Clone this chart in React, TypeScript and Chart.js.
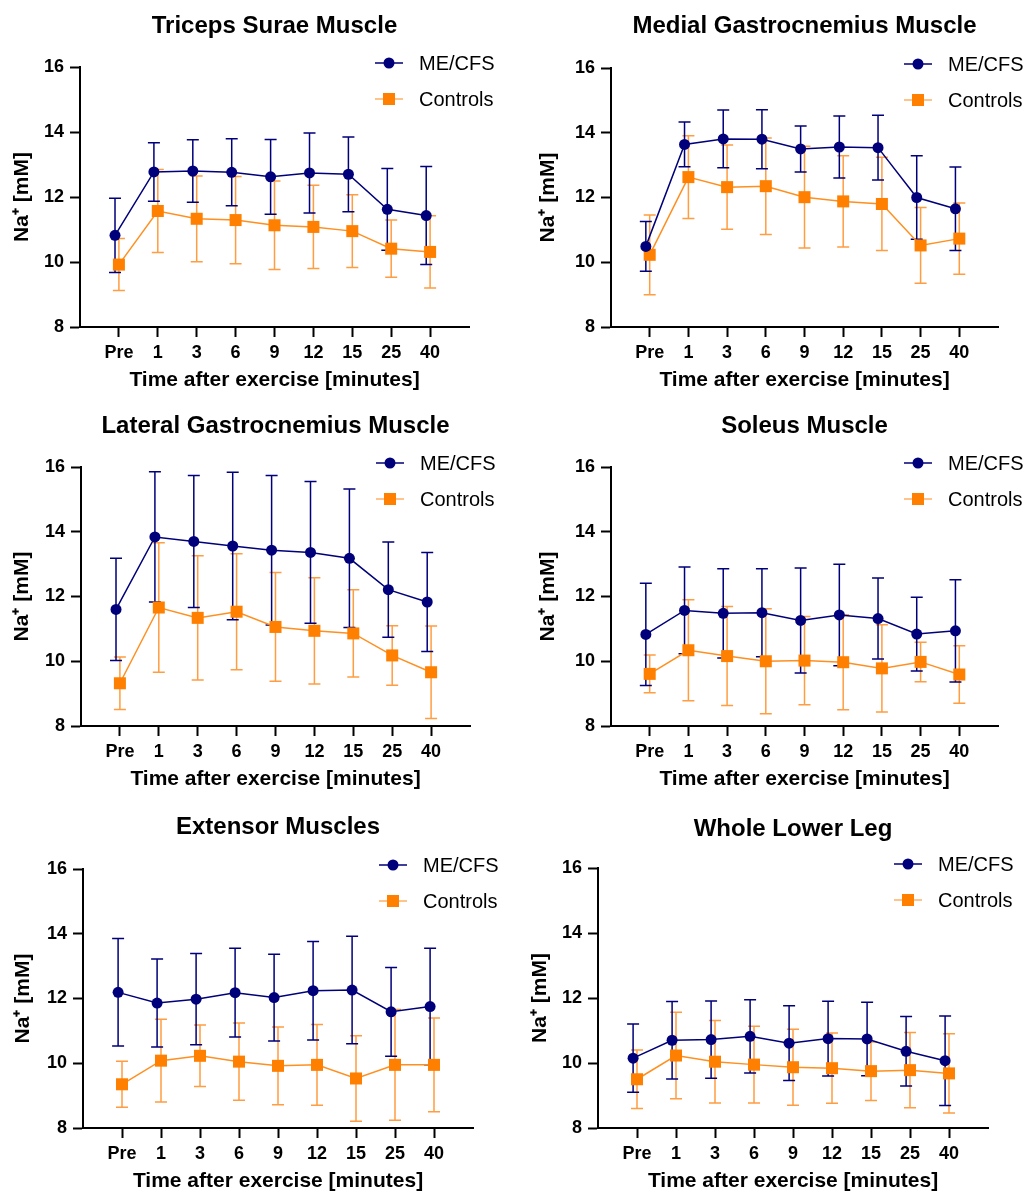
import React, { useEffect, useRef } from "react";
import { Chart, registerables } from "chart.js";

Chart.register(...registerables);

// ---------- data ----------
const timeLabels = ["Pre", "1", "3", "6", "9", "12", "15", "25", "40"];
const seriesNames = ["ME/CFS", "Controls"];
const panelTitles = [
  "Triceps Surae Muscle",
  "Medial Gastrocnemius Muscle",
  "Lateral Gastrocnemius Muscle",
  "Soleus Muscle",
  "Extensor Muscles",
  "Whole Lower Leg",
];
const xAxisTitle = "Time after exercise [minutes]";
const yAxisTitle = "Na\u207A [mM]";
const yTicks = [8, 10, 12, 14, 16];

// Triceps Surae
const tricepsMe = [10.82, 12.77, 12.8, 12.76, 12.62, 12.74, 12.7, 11.62, 11.43];
const tricepsMeSd = [1.14, 0.9, 0.96, 1.03, 1.15, 1.23, 1.15, 1.26, 1.51];
const tricepsCtrl = [9.92, 11.57, 11.33, 11.29, 11.13, 11.08, 10.95, 10.41, 10.31];
const tricepsCtrlSd = [0.8, 1.28, 1.32, 1.34, 1.36, 1.28, 1.12, 0.88, 1.11];

// Medial Gastrocnemius
const medialMe = [10.49, 13.64, 13.81, 13.8, 13.5, 13.56, 13.54, 12.0, 11.65];
const medialMeSd = [0.77, 0.69, 0.89, 0.91, 0.71, 0.96, 1.0, 1.29, 1.29];
const medialCtrl = [10.23, 12.63, 12.32, 12.35, 12.01, 11.88, 11.8, 10.52, 10.73];
const medialCtrlSd = [1.23, 1.28, 1.3, 1.49, 1.57, 1.41, 1.44, 1.17, 1.1];

// Lateral Gastrocnemius
const lateralMe = [11.6, 13.84, 13.7, 13.56, 13.43, 13.36, 13.18, 12.21, 11.83];
const lateralMeSd = [1.58, 2.01, 2.04, 2.28, 2.31, 2.19, 2.14, 1.47, 1.53];
const lateralCtrl = [9.32, 11.66, 11.34, 11.53, 11.06, 10.94, 10.86, 10.18, 9.66];
const lateralCtrlSd = [0.81, 2.0, 1.92, 1.79, 1.68, 1.64, 1.35, 0.92, 1.43];

// Soleus
const soleusMe = [10.83, 11.57, 11.48, 11.5, 11.26, 11.43, 11.32, 10.84, 10.94];
const soleusMeSd = [1.58, 1.34, 1.38, 1.36, 1.62, 1.57, 1.25, 1.14, 1.58];
const soleusCtrl = [9.61, 10.34, 10.16, 10.0, 10.02, 9.97, 9.78, 9.98, 9.59];
const soleusCtrlSd = [0.58, 1.56, 1.53, 1.62, 1.36, 1.47, 1.35, 0.61, 0.89];

// Extensor
const extensorMe = [12.19, 11.86, 11.98, 12.18, 12.03, 12.24, 12.26, 11.59, 11.75];
const extensorMeSd = [1.66, 1.36, 1.41, 1.37, 1.34, 1.52, 1.66, 1.37, 1.8];
const extensorCtrl = [9.35, 10.08, 10.23, 10.05, 9.92, 9.95, 9.53, 9.95, 9.95];
const extensorCtrlSd = [0.71, 1.28, 0.95, 1.19, 1.2, 1.25, 1.32, 1.71, 1.45];

// Whole Lower Leg
const wholeMe = [10.15, 10.7, 10.72, 10.82, 10.61, 10.75, 10.74, 10.36, 10.07];
const wholeMeSd = [1.05, 1.19, 1.19, 1.13, 1.15, 1.15, 1.13, 1.07, 1.38];
const wholeCtrl = [9.5, 10.23, 10.04, 9.95, 9.87, 9.84, 9.75, 9.78, 9.68];
const wholeCtrlSd = [0.9, 1.33, 1.27, 1.18, 1.17, 1.08, 0.9, 1.16, 1.22];

const panels = [
  { title: panelTitles[0], me: tricepsMe, meSd: tricepsMeSd, ctrl: tricepsCtrl, ctrlSd: tricepsCtrlSd },
  { title: panelTitles[1], me: medialMe, meSd: medialMeSd, ctrl: medialCtrl, ctrlSd: medialCtrlSd },
  { title: panelTitles[2], me: lateralMe, meSd: lateralMeSd, ctrl: lateralCtrl, ctrlSd: lateralCtrlSd },
  { title: panelTitles[3], me: soleusMe, meSd: soleusMeSd, ctrl: soleusCtrl, ctrlSd: soleusCtrlSd },
  { title: panelTitles[4], me: extensorMe, meSd: extensorMeSd, ctrl: extensorCtrl, ctrlSd: extensorCtrlSd },
  { title: panelTitles[5], me: wholeMe, meSd: wholeMeSd, ctrl: wholeCtrl, ctrlSd: wholeCtrlSd },
];

// ---------- layout & style ----------
const FONT = '"Liberation Sans", Arial, Helvetica, sans-serif';
const NAVY = "#00007A";
const ORANGE = "#FF8000";
const ORANGE_LINE = "#FF8F1F";
const ORANGE_ERR = "rgba(255,140,30,0.85)";
const ORANGE_LEGEND = "#FFB066";
const ME_SHIFT = -0.1;
const X_AXIS_HEIGHT = 66;

const boxes = [
  { x: 0, y: 0, w: 515, h: 400, L: 80, T: 67, R: 469, B: 327, yTitleX: 22, titleY: 26 },
  { x: 515, y: 0, w: 514, h: 400, L: 96, T: 68, R: 483, B: 327, yTitleX: 33, titleY: 26 },
  { x: 0, y: 400, w: 515, h: 400, L: 81, T: 67, R: 470, B: 326, yTitleX: 22, titleY: 26 },
  { x: 515, y: 400, w: 514, h: 400, L: 96, T: 67, R: 483, B: 326, yTitleX: 33, titleY: 26 },
  { x: 0, y: 800, w: 515, h: 394, L: 83, T: 69, R: 473, B: 328, yTitleX: 23, titleY: 27 },
  { x: 515, y: 800, w: 514, h: 394, L: 83, T: 68, R: 473, B: 328, yTitleX: 25, titleY: 29 },
];

type PanelData = (typeof panels)[number];
type Box = (typeof boxes)[number];

function buildConfig(panel: PanelData, box: Box): any {
  const series = [
    { name: seriesNames[0], values: panel.me, sd: panel.meSd, shift: ME_SHIFT, color: NAVY, line: NAVY, err: NAVY, legendLine: NAVY, style: "circle", radius: 5.5 },
    { name: seriesNames[1], values: panel.ctrl, sd: panel.ctrlSd, shift: 0, color: ORANGE, line: ORANGE_LINE, err: ORANGE_ERR, legendLine: ORANGE_LEGEND, style: "rect", radius: 8.5 },
  ];

  const errorBarPlugin = {
    id: "errorBars",
    beforeDatasetsDraw(chart: any) {
      const { ctx } = chart;
      const xs = chart.scales.x;
      const ys = chart.scales.y;
      [1, 0].forEach((si) => {
        const s = series[si];
        ctx.save();
        ctx.strokeStyle = s.err;
        ctx.lineWidth = 1.5;
        s.values.forEach((v, i) => {
          const px = xs.getPixelForValue(i + s.shift);
          const top = ys.getPixelForValue(v + s.sd[i]);
          const bot = ys.getPixelForValue(v - s.sd[i]);
          ctx.beginPath();
          ctx.moveTo(px, top);
          ctx.lineTo(px, bot);
          ctx.moveTo(px - 6, top);
          ctx.lineTo(px + 6, top);
          ctx.moveTo(px - 6, bot);
          ctx.lineTo(px + 6, bot);
          ctx.stroke();
        });
        ctx.restore();
      });
    },
  };

  const legendPlugin = {
    id: "panelLegend",
    afterDraw(chart: any) {
      const { ctx, chartArea } = chart;
      const x0 = chartArea.right - 94;
      series.forEach((s, k) => {
        const yy = chartArea.top - 4 + k * 36;
        ctx.save();
        ctx.strokeStyle = s.legendLine;
        ctx.lineWidth = 1.5;
        ctx.beginPath();
        ctx.moveTo(x0, yy);
        ctx.lineTo(x0 + 28, yy);
        ctx.stroke();
        ctx.fillStyle = s.color;
        ctx.beginPath();
        if (s.style === "circle") {
          ctx.arc(x0 + 14, yy, s.radius, 0, Math.PI * 2);
        } else {
          const half = s.radius * Math.SQRT1_2;
          ctx.rect(x0 + 14 - half, yy - half, half * 2, half * 2);
        }
        ctx.fill();
        ctx.fillStyle = "#000";
        ctx.font = `20px ${FONT}`;
        ctx.textAlign = "left";
        ctx.textBaseline = "middle";
        ctx.fillText(s.name, chartArea.right - 50, yy + 1);
        ctx.restore();
      });
    },
  };

  const titleTop = box.titleY - 14.4;
  const titleBottom = box.T - titleTop - 28.8;

  return {
    type: "line",
    data: {
      datasets: [0, 1].map((si) => {
        const s = series[si];
        return {
          label: s.name,
          data: s.values.map((v, i) => ({ x: i + s.shift, y: v })),
          borderColor: s.line,
          backgroundColor: s.color,
          borderWidth: 1.5,
          pointStyle: s.style,
          pointRadius: s.radius,
          pointHoverRadius: s.radius,
          pointBackgroundColor: s.color,
          pointBorderColor: s.color,
          pointBorderWidth: 0,
          tension: 0,
          fill: false,
          clip: false,
        };
      }),
    },
    options: {
      responsive: false,
      animation: false,
      events: [],
      layout: { padding: { left: 0, top: 0, right: box.w - box.R, bottom: box.h - box.B - X_AXIS_HEIGHT } },
      plugins: {
        legend: { display: false },
        tooltip: { enabled: false },
        title: {
          display: true,
          text: panel.title,
          color: "#000",
          fullSize: false,
          font: { family: FONT, size: 24, weight: "bold" },
          padding: { top: titleTop, bottom: titleBottom },
        },
      },
      scales: {
        x: {
          type: "linear",
          min: -1,
          max: 9,
          afterBuildTicks: (scale: any) => {
            scale.ticks = timeLabels.map((_, i) => ({ value: i }));
          },
          afterFit: (scale: any) => {
            scale.height = X_AXIS_HEIGHT;
          },
          ticks: {
            autoSkip: false,
            maxRotation: 0,
            color: "#000",
            padding: 5,
            font: { family: FONT, size: 18, weight: "bold" },
            callback: (value: any) => timeLabels[value] ?? "",
          },
          grid: { drawOnChartArea: false, drawTicks: true, tickLength: 10, tickColor: "#000", tickWidth: 2 },
          border: { display: true, color: "#000", width: 2 },
          title: {
            display: true,
            text: xAxisTitle,
            color: "#000",
            font: { family: FONT, size: 21, weight: "bold" },
            padding: { top: 0, bottom: 0 },
          },
        },
        y: {
          type: "linear",
          min: 8,
          max: 16,
          afterBuildTicks: (scale: any) => {
            scale.ticks = yTicks.map((v) => ({ value: v }));
          },
          afterFit: (scale: any) => {
            scale.width = box.L;
          },
          ticks: {
            color: "#000",
            padding: 6,
            font: { family: FONT, size: 18, weight: "bold" },
          },
          grid: { drawOnChartArea: false, drawTicks: true, tickLength: 10, tickColor: "#000", tickWidth: 2 },
          border: { display: true, color: "#000", width: 2 },
          title: {
            display: true,
            text: yAxisTitle,
            color: "#000",
            font: { family: FONT, size: 21, weight: "bold" },
            padding: { top: box.yTitleX - 12.6, bottom: 0 },
          },
        },
      },
    },
    plugins: [errorBarPlugin, legendPlugin],
  };
}

function Panel({ panel, box }: { panel: PanelData; box: Box }) {
  const ref = useRef<HTMLCanvasElement>(null);
  useEffect(() => {
    if (!ref.current) return;
    const chart = new Chart(ref.current, buildConfig(panel, box));
    return () => chart.destroy();
  }, [panel, box]);
  return (
    <div style={{ position: "absolute", left: box.x, top: box.y, width: box.w, height: box.h }}>
      <canvas ref={ref} width={box.w} height={box.h} style={{ display: "block", width: box.w, height: box.h }} />
    </div>
  );
}

export default function App() {
  return (
    <div style={{ position: "absolute", left: 0, top: 0, width: 1029, height: 1194, background: "#fff", overflow: "hidden" }}>
      {panels.map((p, i) => (
        <Panel key={i} panel={p} box={boxes[i]} />
      ))}
    </div>
  );
}
